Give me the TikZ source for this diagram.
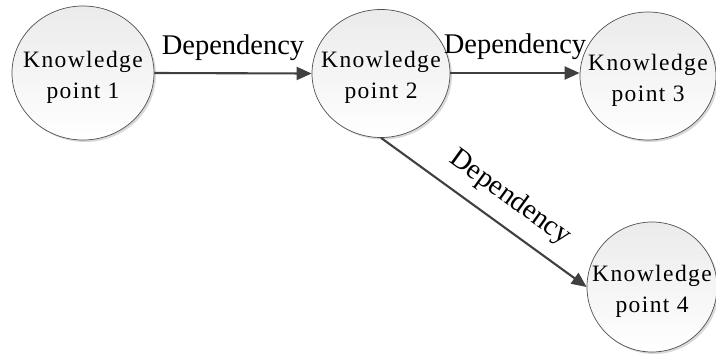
\documentclass[tikz,border=0pt]{standalone}
\usepackage{fontspec}
\setmainfont{Liberation Serif}
\newfontfamily\kfont[LetterSpace=6]{Liberation Serif}
\usetikzlibrary{arrows.meta,shapes.geometric,shadows}
\definecolor{arrowgray}{HTML}{404040}
\definecolor{circline}{HTML}{505050}
\begin{document}
\begin{tikzpicture}[x=1pt,y=-1pt,
  kp/.style={ellipse, draw=circline, line width=0.7pt, inner sep=0pt,
    top color=gray!16, bottom color=white,
    drop shadow={shadow xshift=2pt, shadow yshift=-2pt, fill=gray!50, opacity=0.6}},
  kt/.style={align=center, inner sep=0pt, yshift=-4pt, font=\kfont\fontsize{23.5}{31}\selectfont},
  dep/.style={draw=arrowgray, line width=2.1pt,
    -{Triangle[length=15pt,width=13pt]}},
  lbl/.style={font=\fontsize{28.5}{30}\selectfont, inner sep=0pt}]
\useasboundingbox (0,0) rectangle (716,354);
\node[kp, minimum width=142, minimum height=134, label={[kt]center:Knowledge\\point 1}] (k1) at (83,73) {};
\node[kp, minimum width=138, minimum height=128, label={[kt]center:Knowledge\\point 2}] (k2) at (381,73.5) {};
\node[kp, minimum width=136, minimum height=128, label={[kt]center:Knowledge\\point 3}] (k3) at (648,76) {};
\node[kp, minimum width=130, minimum height=130, label={[kt]center:Knowledge\\point 4}] (k4) at (652,287) {};
\draw[dep] (k1.east) -- node[lbl, above=12pt] {Dependency} (k2.west);
\draw[dep] (k2.east |- 0,73) -- node[lbl, above=12pt] {Dependency} (k3.west |- 0,73);
\draw[dep] (k2.south) -- node[lbl, sloped, above=13pt, pos=0.55] {Dependency} (k4.west);
\end{tikzpicture}
\end{document}
